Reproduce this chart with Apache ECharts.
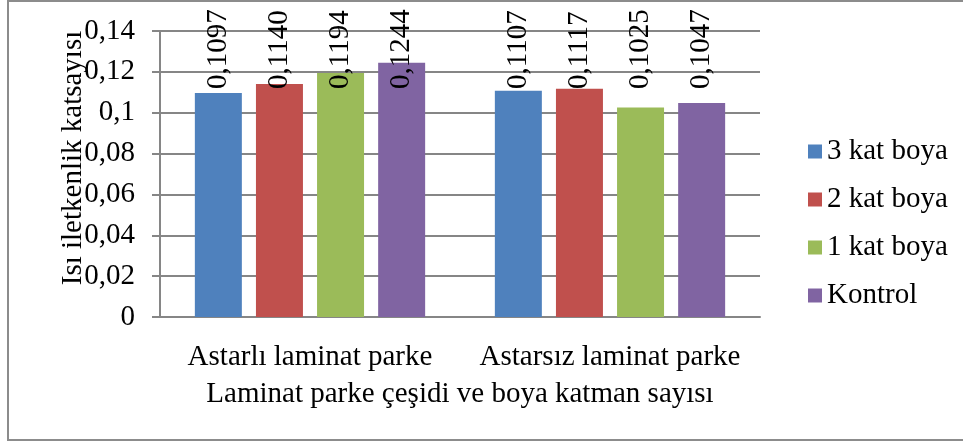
<!DOCTYPE html>
<html>
<head>
<meta charset="utf-8">
<script src="https://cdn.jsdelivr.net/npm/echarts@6/dist/echarts.min.js"></script>
<style>
    html, body { margin: 0; padding: 0; background: #fff; }
    #chart { width: 963px; height: 441px; }
</style>
</head>
<body>
<div id="chart"></div>
<script>
// 数据
const categories = ['Astarlı laminat parke', 'Astarsız laminat parke'];
const seriesNames = ['3 kat boya', '2 kat boya', '1 kat boya', 'Kontrol'];
const kat3 = [0.1097, 0.1107];
const kat2 = [0.1140, 0.1117];
const kat1 = [0.1194, 0.1025];
const kontrol = [0.1244, 0.1047];
const colors = ['#4f81bd', '#c0504d', '#9bbb59', '#8064a2'];

const FONT = 'Liberation Serif';
const FS = 29;
const GRID_COLOR = '#868686';
// 数值标签底边（所有标签同一高度，像原图那样被顶到图表上沿）
const LABEL_BASE_Y = 89;

function comma(v, digits) {
    return v.toFixed(digits).replace('.', ',');
}

function makeSeries(name, data, color) {
    return {
        name: name,
        type: 'bar',
        data: data,
        barWidth: 47,
        barGap: '30%',
        itemStyle: { color: color },
        label: {
            show: true,
            position: 'top',
            distance: 3,
            rotate: 90,
            align: 'left',
            verticalAlign: 'middle',
            fontFamily: FONT,
            fontSize: FS,
            color: '#000',
            formatter: function (p) { return comma(p.value, 4); }
        },
        labelLayout: function (p) {
            return {
                x: p.rect.x + p.rect.width / 2,
                y: LABEL_BASE_Y
            };
        }
    };
}

const chart = echarts.init(document.getElementById('chart'));
chart.setOption({
    animation: false,
    textStyle: { fontFamily: FONT },
    color: colors,
    grid: { left: 160, right: 203, top: 31, bottom: 124 },
    legend: {
        orient: 'vertical',
        left: 803,
        top: 132,
        itemWidth: 14,
        itemHeight: 14,
        itemGap: 19,
        icon: 'rect',
        textStyle: { fontFamily: FONT, fontSize: FS, color: '#000' },
        data: seriesNames
    },
    xAxis: {
        type: 'category',
        data: categories,
        name: 'Laminat parke çeşidi ve boya katman sayısı',
        nameLocation: 'middle',
        nameGap: 63,
        nameMoveOverlap: false,
        nameTextStyle: { fontFamily: FONT, fontSize: FS, color: '#000' },
        axisLine: { lineStyle: { color: GRID_COLOR, width: 2 } },
        axisTick: { length: 8, lineStyle: { color: GRID_COLOR, width: 2 } },
        axisLabel: { interval: 0, fontFamily: FONT, fontSize: FS, color: '#000', margin: 26 }
    },
    yAxis: {
        type: 'value',
        min: 0,
        max: 0.14,
        interval: 0.02,
        name: 'Isı iletkenlik katsayısı',
        nameLocation: 'middle',
        nameGap: 72,
        nameRotate: 90,
        nameMoveOverlap: false,
        nameTextStyle: { fontFamily: FONT, fontSize: FS, color: '#000', padding: [0, 0, 0, 32] },
        axisLine: { show: true, lineStyle: { color: GRID_COLOR, width: 2 } },
        axisTick: { show: true, length: 8, lineStyle: { color: GRID_COLOR, width: 2 } },
        splitLine: { lineStyle: { color: GRID_COLOR, width: 2 } },
        axisLabel: {
            fontFamily: FONT,
            fontSize: FS,
            color: '#000',
            margin: 25,
            formatter: function (v) {
                return String(+v.toFixed(2)).replace('.', ',');
            }
        }
    },
    graphic: [{
        type: 'rect',
        silent: true,
        shape: { x: 8, y: 1, width: 1000, height: 439 },
        style: { fill: 'none', stroke: '#8c8c8c', lineWidth: 2 }
    }],
    series: [
        makeSeries(seriesNames[0], kat3, colors[0]),
        makeSeries(seriesNames[1], kat2, colors[1]),
        makeSeries(seriesNames[2], kat1, colors[2]),
        makeSeries(seriesNames[3], kontrol, colors[3])
    ]
});

window.addEventListener('resize', function () {
    chart.resize();
});
</script>
</body>
</html>
